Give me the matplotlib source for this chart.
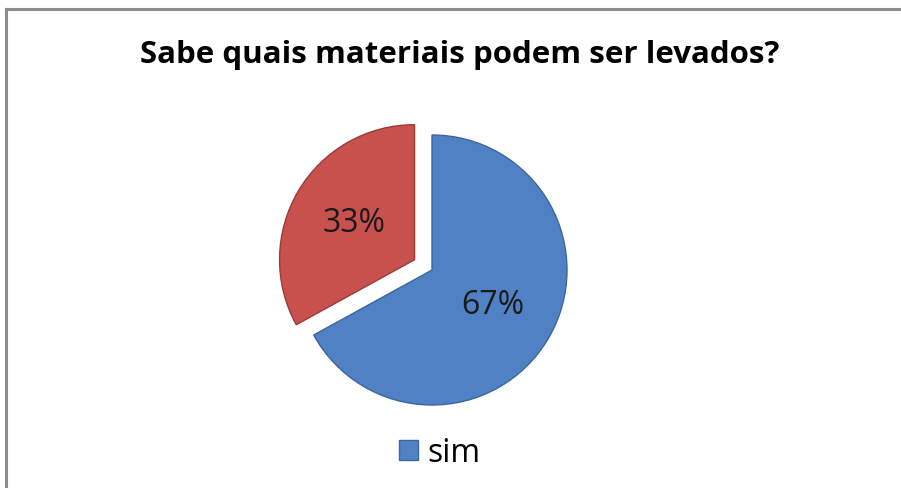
import matplotlib
matplotlib.use("Agg")
import matplotlib.pyplot as plt
from matplotlib.lines import Line2D

# data
categories = ["sim", "não"]
values = [67, 33]
title = "Sabe quais materiais podem ser levados?"

colors = ["#4F81C4", "#C8504D"]
edges = ["#3A679E", "#9B3B38"]

plt.rcParams["font.family"] = ["Open Sans", "DejaVu Sans"]

W, H = 901, 488
fig = plt.figure(figsize=(W / 100, H / 100), dpi=100, facecolor="white")

# outer frame (only top and left visible, rest cropped)
fig.add_artist(Line2D([5.5 / W, 5.5 / W], [0, 1 - 8.5 / H], transform=fig.transFigure,
                      color="#8C8C8C", lw=2.2))
fig.add_artist(Line2D([5.5 / W, 1], [1 - 8.5 / H, 1 - 8.5 / H], transform=fig.transFigure,
                      color="#8C8C8C", lw=2.2))

fig.text(460 / W, 1 - 55 / H, title, ha="center", va="center",
         fontsize=22.5, fontweight="bold", color="black")

# pie axes, centred at (432, 270) px with radius 135 px
R = 135
lim = 1.3
side = 2 * lim * R
cx, cy = 432, 270
ax = fig.add_axes([(cx - side / 2) / W, (H - cy - side / 2) / H, side / W, side / H])
wedges, texts, autotexts = ax.pie(
    values, colors=colors, startangle=90, counterclock=False,
    explode=[0, 0.15], autopct="%1.0f%%", pctdistance=0.52,
    wedgeprops=dict(linewidth=1.0),
    textprops=dict(fontsize=23, color="#1a1a1a"),
)
for w, e in zip(wedges, edges):
    w.set_edgecolor(e)
ax.set_xlim(-lim, lim)
ax.set_ylim(-lim, lim)
ax.set_aspect("equal")
ax.axis("off")

fig.legend([wedges[0]], [categories[0]], loc="center", bbox_to_anchor=(440 / W, 1 - 453 / H),
           frameon=False, fontsize=23, handlelength=0.6, handleheight=0.6,
           handletextpad=0.3)

fig.savefig("out.png", dpi=100, facecolor="white")
